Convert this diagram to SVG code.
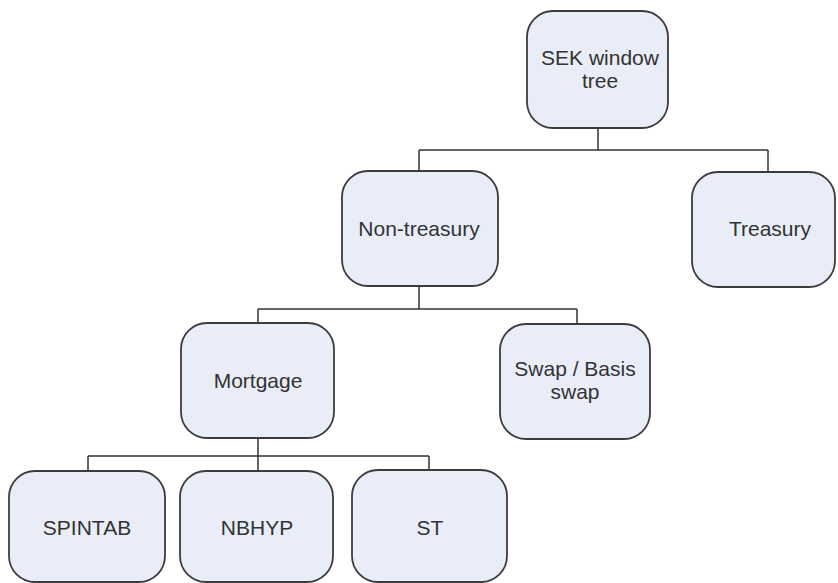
<svg xmlns="http://www.w3.org/2000/svg" width="838" height="583" viewBox="0 0 838 583">
<style>
.n{fill:#e8edf7;stroke:#3c3c3c;stroke-width:1.8}
.t{font-family:"Liberation Sans",Arial,sans-serif;font-size:21px;fill:#333;text-anchor:middle}
.c{fill:none;stroke:#333;stroke-width:1.5}
</style>
<rect width="838" height="583" fill="#fff"/>
<g id="connectors">
<path class="c" d="M598 128V150M419 150H768M419 150V171M768 150V172"/>
<path class="c" d="M419 286V309M258 309H577M258 309V323M577 309V324"/>
<path class="c" d="M258 438V456M88 456H429M88 456V471M258 456V471M429 456V471"/>
</g>
<g id="sek"><rect class="n" x="527" y="11" width="141" height="117" rx="26"/><text class="t" x="600" y="65">SEK window</text><text class="t" x="600" y="88">tree</text></g>
<g id="nontreasury"><rect class="n" x="342" y="171" width="156" height="115" rx="26"/><text class="t" x="419" y="236">Non-treasury</text></g>
<g id="treasury"><rect class="n" x="692" y="172" width="143" height="115" rx="26"/><text class="t" x="770" y="236">Treasury</text></g>
<g id="mortgage"><rect class="n" x="181" y="323" width="153" height="115" rx="26"/><text class="t" x="258" y="388">Mortgage</text></g>
<g id="swap"><rect class="n" x="500" y="324" width="150" height="115" rx="26"/><text class="t" x="575" y="376">Swap / Basis</text><text class="t" x="575" y="399">swap</text></g>
<g id="spintab"><rect class="n" x="9" y="471" width="156" height="111" rx="26"/><text class="t" x="87" y="535">SPINTAB</text></g>
<g id="nbhyp"><rect class="n" x="180" y="471" width="153" height="111" rx="26"/><text class="t" x="257" y="535">NBHYP</text></g>
<g id="st"><rect class="n" x="352" y="470" width="155" height="112" rx="26"/><text class="t" x="430" y="535">ST</text></g>
</svg>
